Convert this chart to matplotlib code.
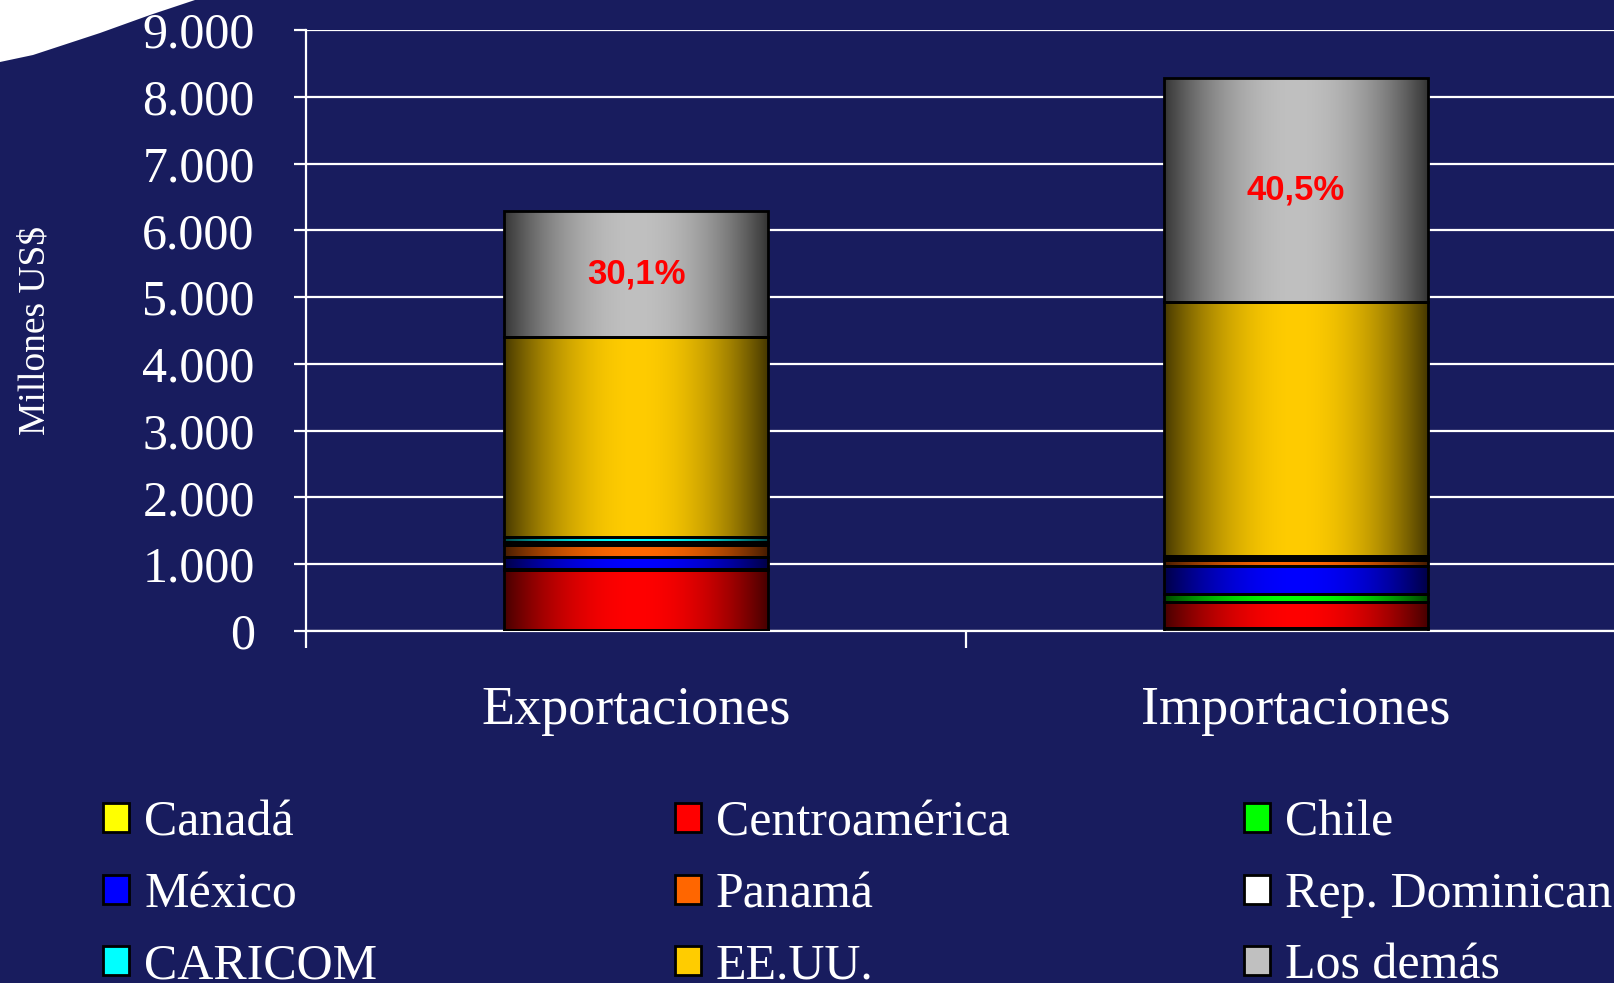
import numpy as np
import matplotlib
matplotlib.use("Agg")
import matplotlib.pyplot as plt
from matplotlib.colors import to_rgb
from matplotlib.patches import Polygon, Rectangle

# data (millones US$)
categories = ["Exportaciones", "Importaciones"]
partners = ["Canadá", "Centroamérica", "Chile", "México", "Panamá",
            "Rep. Dominicana", "CARICOM", "EE.UU.", "Los demás"]
exports = [15, 900, 20, 180, 170, 50, 70, 2990, 1895]
imports = [40, 400, 110, 420, 90, 30, 40, 3800, 3350]
colors = ["#FFFF00", "#FF0000", "#00FF00", "#0000FF", "#FF6600",
          "#FFFFFF", "#00FFFF", "#FFCC00", "#C0C0C0"]
yticks = [0, 1000, 2000, 3000, 4000, 5000, 6000, 7000, 8000, 9000]

BG = "#181C5E"
SERIF = ["Liberation Serif", "DejaVu Serif"]


def gradient_fill(ax, rect, color):
    x, y = rect.get_xy()
    w, h = rect.get_width(), rect.get_height()
    t = np.linspace(-1, 1, 256)
    shade = 1 - 0.72 * np.abs(t) ** 2
    img = shade[None, :, None] * np.array(to_rgb(color))[None, None, :]
    im = ax.imshow(img, extent=[x, x + w, y, y + h], aspect="auto",
                   zorder=2, interpolation="bilinear")
    im.set_clip_path(rect)


fig = plt.figure(figsize=(16.15, 9.83), dpi=100)
fig.patch.set_facecolor(BG)
ax = fig.add_axes([0.1895, 0.3581, 0.8173, 0.6114])
ax.set_facecolor(BG)

# white corner decoration
fig.patches.append(Polygon([(0, 1), (195 / 1615, 1), (150 / 1615, 1 - 15 / 983),
                            (100 / 1615, 1 - 33 / 983), (33 / 1615, 1 - 55 / 983),
                            (0, 1 - 62 / 983)], closed=True, transform=fig.transFigure,
                           facecolor="white", edgecolor="none"))

x = np.arange(len(categories))
data = np.array([exports, imports])
bottoms = np.zeros(len(categories))
for i, name in enumerate(partners):
    bars = ax.bar(x, data[:, i], 0.4, bottom=bottoms, facecolor="none",
                  edgecolor="black", linewidth=2, zorder=3)
    for r in bars:
        gradient_fill(ax, r, colors[i])
    bottoms += data[:, i]

# share of "Los demás"
for j in range(len(categories)):
    total = data[j].sum()
    rest = data[j, -1]
    pct = f"{100 * rest / total:.1f}%".replace(".", ",")
    ax.text(x[j], total - rest / 2, pct, ha="center", va="center",
            color="#FF0000", fontsize=25, fontweight="bold",
            family="Liberation Sans", zorder=5)

ax.set_xlim(-0.5, 1.5)
ax.set_ylim(0, 9000)
ax.set_yticks(yticks)
ax.set_yticklabels([f"{v:,}".replace(",", ".") for v in yticks],
                   fontsize=36, color="white", family=SERIF)
ax.yaxis.grid(True, color="white", linewidth=1.6)
ax.set_axisbelow(True)
ax.tick_params(axis="y", length=9, width=1.6, color="white", pad=28)

ax.set_xticks([-0.5, 0.5, 1.5])
ax.set_xticklabels([])
ax.set_xticks(x, minor=True)
ax.set_xticklabels(categories, minor=True, fontsize=39, color="white", family=SERIF)
ax.tick_params(axis="x", which="major", length=12, width=1.6, color="white")
ax.tick_params(axis="x", which="minor", length=0, pad=39)

for s in ["top", "right"]:
    ax.spines[s].set_visible(False)
for s in ["left", "bottom"]:
    ax.spines[s].set_color("white")
    ax.spines[s].set_linewidth(1.6)

ax.set_ylabel("Millones US$", fontsize=27, color="white", family=SERIF)
ax.yaxis.set_label_coords(-0.192, 0.5)

# legend, three columns placed separately
handles = [Rectangle((0, 0), 1, 1, facecolor=c, edgecolor="black", linewidth=2)
           for c in colors]
col_x = [103, 675, 1244]
for c in range(3):
    idx = [c, c + 3, c + 6]
    fig.legend([handles[k] for k in idx], [partners[k] for k in idx],
               loc="upper left", bbox_to_anchor=(col_x[c] / 1615, 1 - 800 / 983),
               frameon=False, borderpad=0, borderaxespad=0,
               handlelength=0.52, handleheight=0.52, handletextpad=0.3,
               labelspacing=0.5, labelcolor="white",
               prop={"family": SERIF, "size": 36})

fig.savefig("out.png", dpi=100, facecolor=BG)
